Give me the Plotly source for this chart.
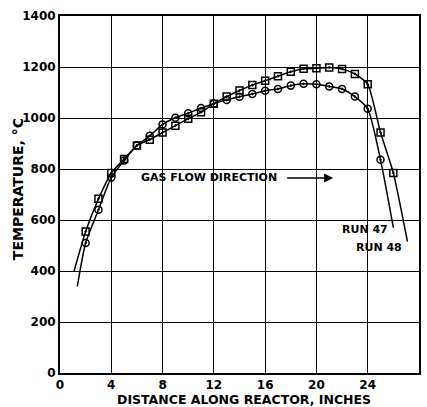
import plotly.graph_objects as go

# Run 47 (circles)
x47 = [2, 3, 4, 5, 6, 7, 8, 9, 10, 11, 12, 13, 14, 15, 16, 17, 18, 19, 20, 21, 22, 23, 24, 25]
t47 = [510, 640, 767, 833, 892, 930, 975, 1001, 1019, 1039, 1056, 1071, 1083, 1094, 1107, 1114, 1127, 1134, 1132, 1124, 1114, 1084, 1036, 836]
# curve ends for run 47
x47_curve = [1.35] + x47 + [26.0]
t47_curve = [340] + t47 + [570]

# Run 48 (squares)
x48 = [2, 3, 4, 5, 6, 7, 8, 9, 10, 11, 12, 13, 14, 15, 16, 17, 18, 19, 20, 21, 22, 23, 24, 25, 26]
t48 = [555, 683, 784, 839, 892, 915, 943, 970, 997, 1023, 1056, 1084, 1108, 1129, 1146, 1164, 1181, 1193, 1195, 1198, 1192, 1173, 1132, 943, 784]
x48_curve = [1.1] + x48 + [27.1]
t48_curve = [400] + t48 + [515]

x_ticks = [0, 4, 8, 12, 16, 20, 24, 28]
y_ticks = [0, 200, 400, 600, 800, 1000, 1200, 1400]

font_family = "DejaVu Sans"

fig = go.Figure()
fig.add_trace(go.Scatter(x=x47_curve, y=t47_curve, mode="lines",
                         line=dict(color="black", width=1.5, shape="spline", smoothing=0.6),
                         showlegend=False, hoverinfo="skip"))
fig.add_trace(go.Scatter(x=x48_curve, y=t48_curve, mode="lines",
                         line=dict(color="black", width=1.5, shape="spline", smoothing=0.6),
                         showlegend=False, hoverinfo="skip"))
fig.add_trace(go.Scatter(x=x47, y=t47, mode="markers", name="RUN 47",
                         marker=dict(symbol="circle-open-dot", size=7, color="black",
                                     line=dict(width=1.5, color="black")),
                         showlegend=False))
fig.add_trace(go.Scatter(x=x48, y=t48, mode="markers", name="RUN 48",
                         marker=dict(symbol="square-open-dot", size=7, color="black",
                                     line=dict(width=1.5, color="black")),
                         showlegend=False))

fig.add_annotation(x=11.6, y=765, text="<b>GAS FLOW DIRECTION</b>", showarrow=False,
                   font=dict(family=font_family, size=11, color="black"))
fig.add_annotation(x=21.3, y=765, ax=17.6, ay=765, axref="x", ayref="y", xref="x", yref="y",
                   text="", showarrow=True, arrowhead=2, arrowsize=1.2, arrowwidth=1.5,
                   arrowcolor="black")
fig.add_annotation(x=23.8, y=563, text="<b>RUN 47</b>", showarrow=False,
                   font=dict(family=font_family, size=11, color="black"))
fig.add_annotation(x=24.9, y=494, text="<b>RUN 48</b>", showarrow=False,
                   font=dict(family=font_family, size=11, color="black"))

# axis titles as paper annotations
fig.add_annotation(xref="paper", yref="paper", x=0.512, y=-0.0756,
                   xanchor="center", yanchor="middle",
                   text="<b>DISTANCE ALONG REACTOR, INCHES</b>", showarrow=False,
                   font=dict(family=font_family, size=12.5, color="black"))
fig.add_annotation(xref="paper", yref="paper", x=-0.117, y=0.515, textangle=-90,
                   xanchor="center", yanchor="middle",
                   text="<b>TEMPERATURE, °C</b>", showarrow=False,
                   font=dict(family=font_family, size=14, color="black"))

fig.update_xaxes(range=[0, 28], tickvals=x_ticks, ticktext=["<b>%d</b>" % v for v in x_ticks],
                 showgrid=True, gridcolor="black", gridwidth=1,
                 showline=True, linecolor="black", linewidth=2, mirror=True,
                 ticks="", zeroline=False, automargin=False,
                 tickfont=dict(family=font_family, size=12, color="black"))
fig.update_yaxes(range=[0, 1400], tickvals=y_ticks, ticktext=["<b>%d</b>" % v for v in y_ticks],
                 showgrid=True, gridcolor="black", gridwidth=1,
                 showline=True, linecolor="black", linewidth=2, mirror=True,
                 ticks="", zeroline=False, automargin=False,
                 tickfont=dict(family=font_family, size=12, color="black"))

fig.update_layout(width=427, height=407, margin=dict(l=60, r=8, t=16, b=34, autoexpand=False),
                  plot_bgcolor="white", paper_bgcolor="white",
                  font=dict(family=font_family, color="black"))

fig.write_html("out.html", config={"displayModeBar": False},
               post_script="document.body.style.margin='0';document.body.style.overflow='hidden';")
